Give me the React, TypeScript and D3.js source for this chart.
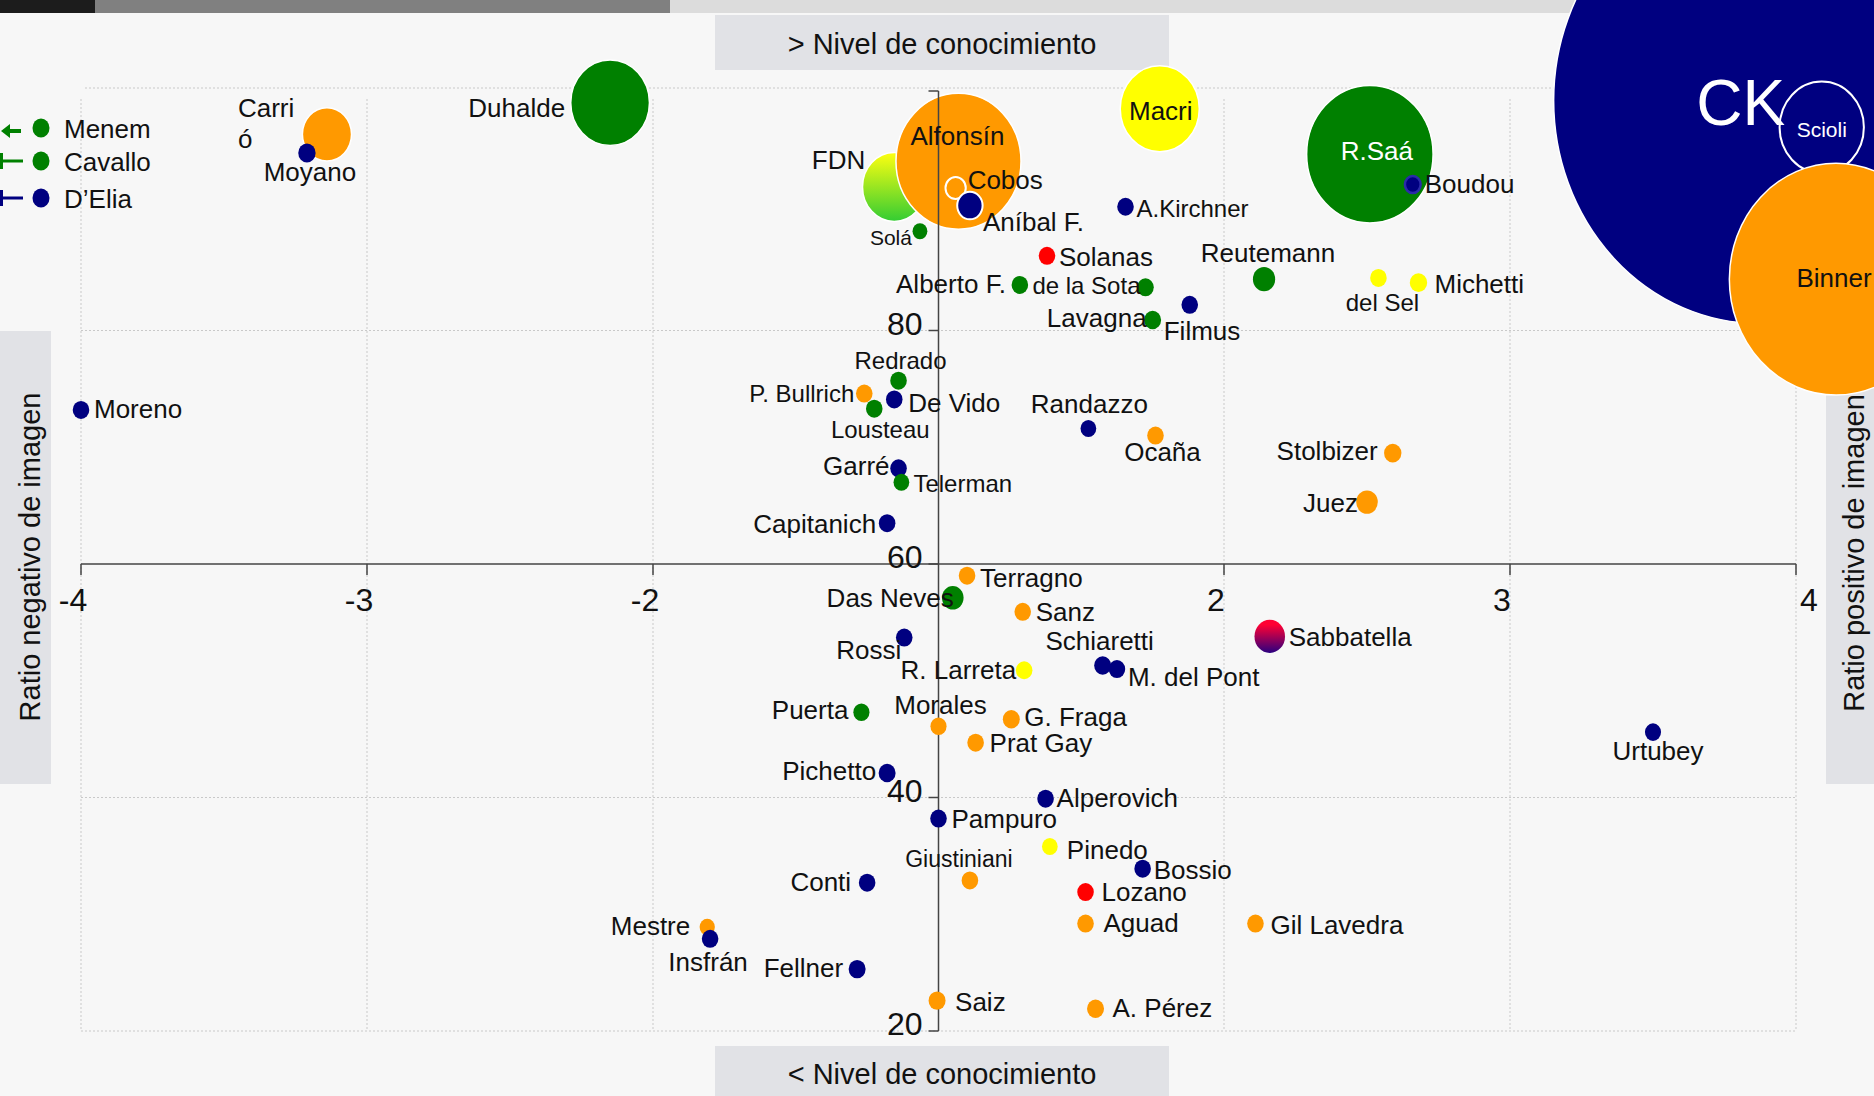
import { useEffect } from 'react';
import * as d3 from 'd3';

// datos: imagen (eje x, ratio negativo/positivo), conocimiento (eje y), peso (tamaño de burbuja)
const candidatos = [
  'Carrió', 'Moyano', 'Duhalde', 'FDN', 'Alfonsín', 'Cobos', 'Aníbal F.', 'Solá', 'Macri', 'A.Kirchner',
  'R.Saá', 'Boudou', 'del Sel', 'Michetti', 'CK', 'Scioli', 'Binner', 'Solanas', 'Alberto F.', 'de la Sota',
  'Lavagna', 'Filmus', 'Reutemann', 'Redrado', 'P. Bullrich', 'De Vido', 'Lousteau', 'Randazzo', 'Ocaña', 'Stolbizer',
  'Juez', 'Garré', 'Telerman', 'Capitanich', 'Moreno', 'Terragno', 'Das Neves', 'Sanz', 'Rossi', 'Sabbatella',
  'Schiaretti', 'M. del Pont', 'R. Larreta', 'Puerta', 'Morales', 'G. Fraga', 'Prat Gay', 'Pichetto', 'Alperovich', 'Pampuro',
  'Pinedo', 'Giustiniani', 'Conti', 'Bossio', 'Lozano', 'Aguad', 'Gil Lavedra', 'Mestre', 'Insfrán', 'Fellner',
  'Saiz', 'A. Pérez', 'Urtubey'
];

const imagen = [
  -3.14, -3.21, -2.15, -0.31, 0.14, 0.12, 0.22, -0.13, 1.55, 1.31,
  2.51, 2.66, 2.54, 2.68, 3.87, 4.09, 4.14, 0.76, 0.57, 1.45,
  1.5, 1.76, 2.14, -0.28, -0.52, -0.31, -0.45, 1.05, 1.52, 2.59,
  2.5, -0.28, -0.26, -0.36, -4.0, 0.2, 0.1, 0.59, -0.24, 2.16,
  1.15, 1.25, 0.6, -0.54, 0.0, 0.51, 0.26, -0.36, 0.75, 0.0,
  0.78, 0.22, -0.5, 1.43, 1.03, 1.03, 2.11, -1.62, -1.6, -0.57,
  -0.01, 1.1, 3.5
];

const conocimiento = [
  96.8, 95.2, 99.5, 92.3, 94.5, 92.2, 90.7, 88.5, 99.0, 90.6,
  95.1, 92.5, 84.5, 84.1, 99.7, 97.4, 84.4, 86.4, 83.9, 83.7,
  80.9, 82.2, 84.4, 75.7, 74.6, 74.1, 73.3, 71.6, 71.0, 69.5,
  65.3, 68.2, 67.0, 63.5, 73.2, 59.0, 57.1, 55.9, 53.7, 53.8,
  51.3, 51.0, 50.9, 47.3, 46.1, 46.7, 44.7, 42.1, 39.9, 38.2,
  35.8, 32.9, 32.7, 33.9, 31.9, 29.2, 29.2, 28.9, 27.9, 25.3,
  22.6, 21.9, 45.6
];

const peso = [
  8.8, 1.1, 22.6, 14.7, 57, 1.5, 2.35, 0.8, 22.8, 1,
  58.3, 0.9, 1, 1.1, 614, 25.9, 166, 1, 1, 1,
  1.05, 1, 1.8, 1, 1, 1, 1, 0.9, 1, 1.1,
  1.7, 1, 0.9, 1, 1, 1, 1.7, 1, 1, 3.4,
  1.05, 1, 1, 0.95, 0.95, 1.05, 1, 1.05, 1, 1,
  0.9, 1, 1, 1, 1, 1, 1, 0.85, 1, 1.05,
  1.05, 1.05, 0.95
];

const fuerza = [
  'naranja', 'azul', 'verde', 'fdn', 'naranja', 'naranja', 'azul', 'verde', 'amarillo', 'azul',
  'verde', 'azul', 'amarillo', 'amarillo', 'azul', 'azul', 'naranja', 'rojo', 'verde', 'verde',
  'verde', 'azul', 'verde', 'verde', 'naranja', 'azul', 'verde', 'azul', 'naranja', 'naranja',
  'naranja', 'azul', 'verde', 'azul', 'azul', 'naranja', 'verde', 'naranja', 'azul', 'nuevo',
  'azul', 'azul', 'amarillo', 'verde', 'naranja', 'naranja', 'naranja', 'azul', 'azul', 'azul',
  'amarillo', 'naranja', 'azul', 'azul', 'rojo', 'naranja', 'naranja', 'naranja', 'azul', 'azul',
  'naranja', 'naranja', 'azul'
];

const leyendaNombres = ['Menem', 'Cavallo', 'D’Elia'];
const leyendaFuerza = ['verde', 'verde', 'azul'];

const xTicks = [-4, -3, -2, 2, 3, 4];
const yTicks = [20, 40, 60, 80, 100];
const yLabels = [20, 40, 60, 80];

const colores: Record<string, string> = {
  naranja: '#ff9900',
  azul: '#000080',
  verde: '#008000',
  amarillo: '#ffff00',
  rojo: '#ff0000',
  fdn: 'url(#grad-fdn)',
  nuevo: 'url(#grad-nuevo)',
};

// ubicación de cada etiqueta respecto de su punto: [anchor, dx, dy, tamaño, color]
const etiquetas: Record<string, [string, number, number, number, string?]> = {
  'Carrió': ['start', -89, -17, 26],
  'Moyano': ['middle', 3, 28, 26],
  'Duhalde': ['end', -45, 14, 26],
  'FDN': ['end', -29, -18, 26],
  'Alfonsín': ['middle', -1, -16, 26],
  'Cobos': ['start', 12, 1, 26],
  'Aníbal F.': ['start', 13, 25, 26],
  'Solá': ['end', -8, 14, 21],
  'Macri': ['middle', 1, 11, 26],
  'A.Kirchner': ['start', 11, 10, 24],
  'R.Saá': ['middle', 7, 6, 26, '#fff'],
  'Boudou': ['start', 12, 8, 26],
  'del Sel': ['middle', 4, 33, 24],
  'Michetti': ['start', 16, 10, 26],
  'CK': ['middle', -18, 24, 64, '#fff'],
  'Scioli': ['middle', 0, 10, 21, '#fff'],
  'Binner': ['middle', -2, 8, 26],
  'Solanas': ['start', 12, 10, 26],
  'Alberto F.': ['end', -14, 8, 26],
  'de la Sota': ['end', -5, 7, 24],
  'Lavagna': ['end', -6, 7, 26],
  'Filmus': ['start', -26, 35, 26],
  'Reutemann': ['middle', 4, -17, 26],
  'Redrado': ['middle', 2, -12, 24],
  'P. Bullrich': ['end', -10, 8, 24],
  'De Vido': ['start', 14, 13, 26],
  'Lousteau': ['middle', 6, 29, 24],
  'Randazzo': ['middle', 1, -16, 26],
  'Ocaña': ['middle', 7, 25, 26],
  'Stolbizer': ['end', -15, 7, 26],
  'Juez': ['end', -9, 10, 26],
  'Garré': ['end', -9, 7, 26],
  'Telerman': ['start', 12, 10, 24],
  'Capitanich': ['end', -11, 10, 26],
  'Moreno': ['start', 13, 8, 26],
  'Terragno': ['start', 13, 11, 26],
  'Das Neves': ['end', 1, 9, 26],
  'Sanz': ['start', 13, 9, 26],
  'Rossi': ['end', -3, 21, 26],
  'Sabbatella': ['start', 19, 10, 26],
  'Schiaretti': ['middle', -3, -16, 26],
  'M. del Pont': ['start', 11, 17, 26],
  'R. Larreta': ['end', -8, 9, 26],
  'Puerta': ['end', -13, 7, 26],
  'Morales': ['middle', 2, -12, 26],
  'G. Fraga': ['start', 13, 7, 26],
  'Prat Gay': ['start', 14, 9, 26],
  'Pichetto': ['end', -11, 7, 26],
  'Alperovich': ['start', 11, 8, 26],
  'Pampuro': ['start', 13, 9, 26],
  'Pinedo': ['start', 17, 12, 26],
  'Giustiniani': ['middle', -11, -13, 23],
  'Conti': ['end', -16, 8, 26],
  'Bossio': ['start', 11, 10, 26],
  'Lozano': ['start', 16, 9, 26],
  'Aguad': ['start', 18, 8, 26],
  'Gil Lavedra': ['start', 15, 10, 26],
  'Mestre': ['end', -17, 8, 26],
  'Insfrán': ['middle', -2, 32, 26],
  'Fellner': ['end', -14, 8, 26],
  'Saiz': ['start', 18, 10, 26],
  'A. Pérez': ['start', 17, 8, 26],
  'Urtubey': ['middle', 5, 28, 26],
};

const cortes: Record<string, string[]> = { 'Carrió': ['Carri', 'ó'] };

const W = 1874;
const H = 1096;
const FONT = '"Liberation Sans", Arial, Helvetica, sans-serif';

export default function App() {
  useEffect(() => {
    document.body.style.margin = '0';
    document.body.style.background = '#f7f7f7';
  }, []);

  // eje x partido: el tramo -2..2 está comprimido
  const x = d3.scaleLinear().domain([-4, -2, 2, 4]).range([81, 653, 1224, 1796]);
  const y = d3.scaleLinear().domain([20, 100]).range([1031, 97]);
  const r = d3.scaleSqrt().domain([0, 1]).range([0, 9]);

  const puntos = candidatos.map((nombre, i) => ({
    nombre,
    cx: x(imagen[i]),
    cy: y(conocimiento[i]),
    r: r(peso[i]),
    fill: colores[fuerza[i]],
  }));
  const grandes = puntos.filter(p => p.r > 30);
  const chicos = puntos.filter(p => p.r <= 30);

  const x0 = x(0);
  const y60 = y(60);

  const stroke = (p: typeof puntos[number]) => {
    if (p.nombre === 'Boudou') return { stroke: '#2a2aa8', strokeWidth: 2.5 };
    if (p.nombre === 'Cobos' || p.nombre === 'Aníbal F.' || p.nombre === 'Scioli') return { stroke: '#fff', strokeWidth: 2 };
    return { stroke: '#fff', strokeWidth: p.r > 20 ? 1.5 : 0 };
  };

  const burbuja = (p: typeof puntos[number]) => {
    const s = stroke(p);
    return (
      <ellipse key={p.nombre} cx={p.cx} cy={p.cy} rx={p.r * 0.92} ry={p.r}
        fill={p.fill} stroke={s.stroke} strokeWidth={s.strokeWidth} />
    );
  };

  return (
    <svg width={W} height={H} style={{ display: 'block', background: '#f7f7f7' }} fontFamily={FONT}>
      <defs>
        <linearGradient id="grad-fdn" x1="0" y1="0" x2="0" y2="1">
          <stop offset="0" stopColor="#ffff10" />
          <stop offset="1" stopColor="#33cc33" />
        </linearGradient>
        <linearGradient id="grad-nuevo" x1="0" y1="0" x2="0" y2="1">
          <stop offset="0.15" stopColor="#ff0033" />
          <stop offset="1" stopColor="#2a0080" />
        </linearGradient>
      </defs>

      <rect x={0} y={0} width={W} height={H} fill="#f7f7f7" />

      {/* barra superior */}
      <rect x={0} y={0} width={95} height={13} fill="#1c1c1c" />
      <rect x={95} y={0} width={575} height={13} fill="#808080" />
      <rect x={670} y={0} width={W - 670} height={13} fill="#dcdcdc" />

      {/* grilla */}
      <g stroke="#c9c9c9" strokeWidth={1} strokeDasharray="2,2" fill="none">
        {xTicks.map(t => (
          <line key={'gx' + t} x1={x(t)} x2={x(t)} y1={y(100) + 2} y2={y(20)} />
        ))}
        {[20, 40, 80].map(t => (
          <line key={'gy' + t} x1={x(-4)} x2={x(4)} y1={y(t)} y2={y(t)} />
        ))}
        <line x1={x(-4) + 4} x2={x(4)} y1={y(100) - 9} y2={y(100) - 9} />
      </g>

      {/* cajas de títulos */}
      <rect x={715} y={15} width={454} height={55} fill="#e1e2e6" />
      <text x={942} y={54} textAnchor="middle" fontSize={29} fill="#111">&gt; Nivel de conocimiento</text>
      <rect x={715} y={1046} width={454} height={50} fill="#e1e2e6" />
      <text x={942} y={1084} textAnchor="middle" fontSize={29} fill="#111">&lt; Nivel de conocimiento</text>
      <rect x={0} y={331} width={51} height={453} fill="#e1e2e6" />
      <text transform={`translate(40,557) rotate(-90)`} textAnchor="middle" fontSize={29} fill="#111">
        Ratio negativo de imagen
      </text>
      <rect x={1826} y={331} width={48} height={453} fill="#e1e2e6" />
      <text transform={`translate(1864,553) rotate(-90)`} textAnchor="middle" fontSize={29} fill="#111">
        Ratio positivo de imagen
      </text>

      {/* leyenda */}
      {leyendaNombres.map((n, i) => {
        const ly = [128, 161, 198][i];
        const c = colores[leyendaFuerza[i]];
        return (
          <g key={n}>
            {i === 0 ? (
              <g>
                <path d={`M1,${ly + 3} L10,${ly - 4} L10,${ly + 10} Z`} fill={c} />
                <line x1={9} x2={21} y1={ly + 3} y2={ly + 3} stroke={c} strokeWidth={4} />
              </g>
            ) : (
              <g stroke={c} strokeWidth={3}>
                <line x1={0} x2={23} y1={ly} y2={ly} />
                <line x1={1.5} x2={1.5} y1={ly - 8} y2={ly + 8} />
              </g>
            )}
            <ellipse cx={41} cy={ly} rx={8.5} ry={9.5} fill={c} />
            <text x={64} y={ly + 10} fontSize={26} fill="#111">{n}</text>
          </g>
        );
      })}

      {/* burbujas grandes */}
      {grandes.map(burbuja)}

      {/* ejes */}
      <g stroke="#444" strokeWidth={1.5}>
        <line x1={x(-4)} x2={x(4)} y1={y60} y2={y60} />
        {xTicks.map(t => (
          <line key={'tx' + t} x1={x(t)} x2={x(t)} y1={y60} y2={y60 + 11} />
        ))}
        <line x1={x0} x2={x0} y1={y(100) - 6} y2={y(20)} />
        {yTicks.map(t => (
          <line key={'ty' + t} x1={x0 - 10} x2={x0} y1={t === 100 ? y(100) - 6 : y(t)} y2={t === 100 ? y(100) - 6 : y(t)} />
        ))}
      </g>
      {xTicks.map((t, i) => (
        <text key={'lx' + t} x={i === xTicks.length - 1 ? x(t) + 4 : x(t) - 8} y={y60 + 47}
          textAnchor={i === xTicks.length - 1 ? 'start' : 'middle'} fontSize={32} fill="#111">
          {t}
        </text>
      ))}
      {yLabels.map(t => (
        <text key={'ly' + t} x={x0 - 16} y={y(t) + 4} textAnchor="end" fontSize={32} fill="#111">{t}</text>
      ))}

      {/* puntos chicos */}
      {chicos.map(burbuja)}

      {/* etiquetas */}
      {puntos.map(p => {
        const e = etiquetas[p.nombre];
        if (!e) return null;
        const [anchor, dx, dy, size, color] = e;
        const lineas = cortes[p.nombre] ?? [p.nombre];
        return (
          <text key={'t' + p.nombre} x={p.cx + dx} y={p.cy + dy} textAnchor={anchor}
            fontSize={size} fill={color ?? '#111'}>
            {lineas.map((l, k) => (
              <tspan key={k} x={p.cx + dx} dy={k === 0 ? 0 : 31}>{l}</tspan>
            ))}
          </text>
        );
      })}
    </svg>
  );
}
